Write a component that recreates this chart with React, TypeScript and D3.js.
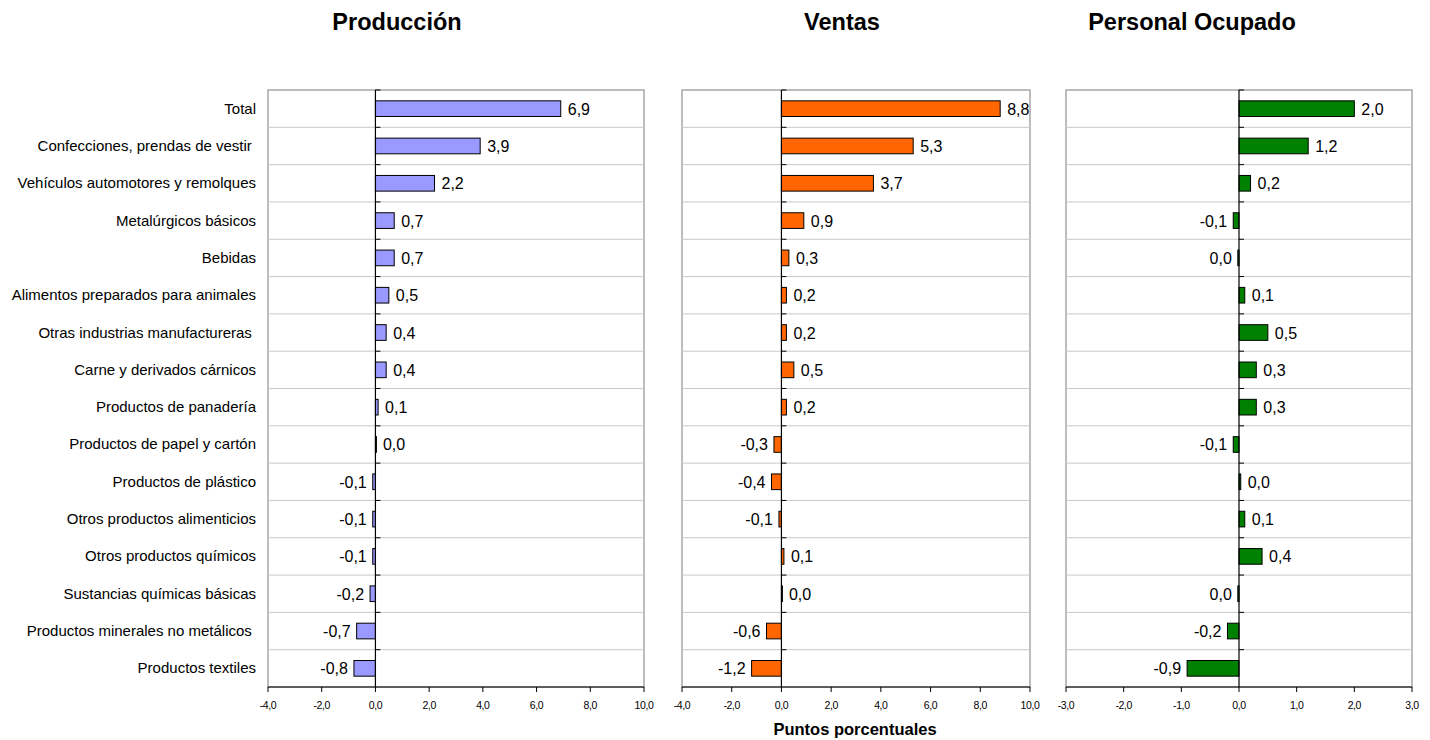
import React from "react";
import * as d3 from "d3";

const categories = [
  "Total",
  "Confecciones, prendas de vestir ",
  "Vehículos automotores y remolques",
  "Metalúrgicos básicos",
  "Bebidas",
  "Alimentos preparados para animales",
  "Otras industrias manufactureras ",
  "Carne y derivados cárnicos",
  "Productos de panadería",
  "Productos de papel y cartón",
  "Productos de plástico",
  "Otros productos alimenticios",
  "Otros productos químicos",
  "Sustancias químicas básicas",
  "Productos minerales no metálicos ",
  "Productos textiles",
];

const produccion = [6.9, 3.9, 2.2, 0.7, 0.7, 0.5, 0.4, 0.4, 0.1, 0.02, -0.1, -0.1, -0.1, -0.2, -0.7, -0.8];
const ventas = [8.8, 5.3, 3.7, 0.9, 0.3, 0.2, 0.2, 0.5, 0.2, -0.3, -0.4, -0.1, 0.1, 0.02, -0.6, -1.2];
const personal = [2.0, 1.2, 0.2, -0.1, -0.02, 0.1, 0.5, 0.3, 0.3, -0.1, 0.03, 0.1, 0.4, -0.02, -0.2, -0.9];

const ticks1 = [-4, -2, 0, 2, 4, 6, 8, 10];
const ticks3 = [-3, -2, -1, 0, 1, 2, 3];

const titles = ["Producción", "Ventas", "Personal Ocupado"];
const xLabel = "Puntos porcentuales";

const fmt = (v: number) => (Math.abs(v) < 0.05 ? "0,0" : v.toFixed(1).replace(".", ","));

const FONT = "Arial, 'Liberation Sans', sans-serif";

type PanelProps = {
  x0: number;
  x1: number;
  domain: [number, number];
  ticks: number[];
  values: number[];
  color: string;
  title: string;
  titleX: number;
};

const TOP = 90;
const BOTTOM = 687;

function Panel({ x0, x1, domain, ticks, values, color, title, titleX }: PanelProps) {
  const x = d3.scaleLinear().domain(domain).range([x0, x1]);
  const y = d3.scaleBand().domain(categories).range([TOP, BOTTOM]).paddingInner(0).paddingOuter(0);
  const bw = y.bandwidth();
  const barH = bw * 0.42;
  const zx = x(0);
  return (
    <g>
      <text x={titleX} y={30} textAnchor="middle" fontFamily={FONT} fontWeight="bold" fontSize={23.5}>
        {title}
      </text>
      <rect x={x0} y={TOP} width={x1 - x0} height={BOTTOM - TOP} fill="none" stroke="#a6a6a6" strokeWidth={1.5} />
      {categories.slice(1).map((c) => (
        <line key={c} x1={x0} x2={x1} y1={y(c)!} y2={y(c)!} stroke="#c8c8c8" strokeWidth={1} />
      ))}
      {values.map((v, i) => {
        const c = categories[i];
        const yc = y(c)! + bw / 2;
        const xa = Math.min(x(v), zx);
        const w = Math.max(Math.abs(x(v) - zx), 1);
        return (
          <g key={c}>
            <rect x={xa} y={yc - barH / 2} width={w} height={barH} fill={color} stroke="#000" strokeWidth={1} />
            <text
              x={v >= 0 ? x(v) + 7 : x(v) - 6}
              y={yc + 6}
              textAnchor={v >= 0 ? "start" : "end"}
              fontFamily={FONT}
              fontSize={16}
            >
              {fmt(v)}
            </text>
          </g>
        );
      })}
      <line x1={zx} x2={zx} y1={TOP} y2={BOTTOM} stroke="#000" strokeWidth={1.2} />
      {categories.map((c) => (
        <line key={c} x1={zx} x2={zx + 5} y1={y(c)!} y2={y(c)!} stroke="#000" strokeWidth={1} />
      ))}
      <line x1={x0} x2={x1} y1={BOTTOM} y2={BOTTOM} stroke="#000" strokeWidth={1.2} />
      {ticks.map((t) => (
        <g key={t}>
          <line x1={x(t)} x2={x(t)} y1={BOTTOM} y2={BOTTOM + 5} stroke="#000" strokeWidth={1} />
          <text x={x(t)} y={BOTTOM + 22} textAnchor="middle" fontFamily={FONT} fontSize={10.5} letterSpacing={-0.4}>
            {t.toFixed(1).replace(".", ",")}
          </text>
        </g>
      ))}
    </g>
  );
}

export default function App() {
  const y = d3.scaleBand().domain(categories).range([TOP, BOTTOM]);
  return (
    <svg width={1430} height={740} style={{ position: "absolute", left: 0, top: 0, background: "#fff" }}>
      <rect width={1430} height={740} fill="#fff" />
      {categories.map((c) => (
        <text
          key={c}
          x={256}
          y={y(c)! + y.bandwidth() / 2 + 5}
          textAnchor="end"
          fontFamily={FONT}
          fontSize={15}
          style={{ whiteSpace: "pre" }}
        >
          {c}
        </text>
      ))}
      <Panel x0={268} x1={644} domain={[-4, 10]} ticks={ticks1} values={produccion} color="#9999ff" title={titles[0]} titleX={397} />
      <Panel x0={682} x1={1030} domain={[-4, 10]} ticks={ticks1} values={ventas} color="#ff6600" title={titles[1]} titleX={842} />
      <Panel x0={1066} x1={1412} domain={[-3, 3]} ticks={ticks3} values={personal} color="#008000" title={titles[2]} titleX={1192} />
      <text x={855} y={735} textAnchor="middle" fontFamily={FONT} fontWeight="bold" fontSize={16.5}>
        {xLabel}
      </text>
    </svg>
  );
}
